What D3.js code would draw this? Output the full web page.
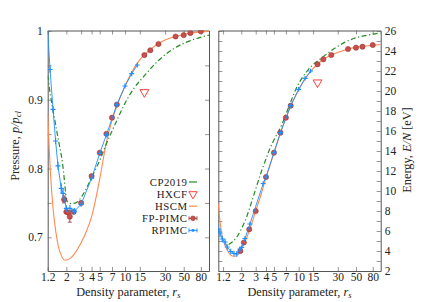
<!DOCTYPE html>
<html>
<head>
<meta charset="utf-8">
<script src="https://cdn.jsdelivr.net/npm/d3@7"></script>
<style>
  body { margin: 0; background: #fff; }
  svg text { font-family: "Liberation Serif", "DejaVu Serif", serif; fill: #222; }
</style>
</head>
<body>
<svg id="chart" width="432" height="302"></svg>
<script>
/*==== DATA ====*/
var rsTicks = [1.2, 2, 3, 4, 5, 7, 10, 15, 30, 50, 80];
var pTicks = [0.7, 0.75, 0.8, 0.85, 0.9, 0.95, 1.0];
var eTicks = d3.range(2, 27, 1);

// pressure panel
var cpPRs = [1.2, 1.3, 1.4, 1.5, 1.6, 1.7, 1.8, 1.9, 1.97, 2.05, 2.3, 2.6, 3.0, 3.5, 4.0, 5.0, 6.0, 8, 10, 12.5, 17, 25, 40, 60, 100];
var cpP = [0.935, 0.905, 0.882, 0.862, 0.843, 0.826, 0.808, 0.782, 0.762, 0.752, 0.749, 0.750, 0.758, 0.772, 0.787, 0.812, 0.836, 0.870, 0.895, 0.915, 0.935, 0.957, 0.976, 0.986, 0.994];
var hscmPRs = [1.2, 1.25, 1.3, 1.4, 1.5, 1.6, 1.75, 1.9, 2.0, 2.2, 2.5, 3.0, 3.5, 4.0, 5.0, 6.0, 7.0, 8.0, 10, 12, 15, 20, 25, 30, 40, 60, 100];
var hscmP = [0.88, 0.83, 0.79, 0.738, 0.708, 0.688, 0.673, 0.667, 0.667, 0.669, 0.676, 0.692, 0.71, 0.73, 0.785, 0.838, 0.87, 0.891, 0.92, 0.94, 0.958, 0.973, 0.982, 0.987, 0.992, 0.997, 0.9995];
var fpPRs = [1.88, 2.0, 2.1, 2.2, 2.45, 3, 4, 5, 6, 7, 8, 17, 20, 25, 40, 50, 60, 80];
var fpP = [0.755, 0.737, 0.736, 0.730, 0.737, 0.750, 0.789, 0.823, 0.8505, 0.874, 0.893, 0.965, 0.972, 0.981, 0.992, 0.994, 0.997, 0.9995];
var fpPErr = [0.005, 0.002, 0.002, 0.008, 0.002, 0.002, 0.001, 0.001, 0.001, 0.001, 0.001, 0.001, 0.001, 0.001, 0.001, 0.001, 0.001, 0.001];
var rpPRs = [1.05, 1.28, 1.39, 1.49, 1.59, 1.74, 1.83, 2.0, 2.21, 2.5, 3, 4, 5, 6, 8, 10, 12, 14];
var rpP = [1.116, 0.944, 0.886, 0.840, 0.804, 0.771, 0.764, 0.742, 0.742, 0.738, 0.748, 0.786, 0.822, 0.849, 0.893, 0.920, 0.938, 0.9505];
var rpPErr = [0, 0.003, 0.003, 0.003, 0.004, 0.006, 0.006, 0.003, 0.003, 0.003, 0.002, 0.002, 0.002, 0.002, 0.002, 0.002, 0.002, 0.002];
var hxPRs = [17];
var hxP = [0.911];

// energy panel
var cpERs = [1.4, 1.6, 1.8, 2.0, 2.3, 2.6, 3.0, 3.5, 4.0, 4.5, 5.0, 6.2, 8, 9.4, 13, 19, 29, 47, 70, 100];
var cpE = [4.65, 5.0, 5.5, 6.2, 7.3, 8.6, 10.2, 11.9, 13.2, 14.3, 15.1, 16.6, 18.9, 20.3, 22.1, 23.3, 24.4, 25.25, 25.6, 25.8];
var hscmERs = [1.05, 1.1, 1.17, 1.25, 1.35, 1.45, 1.55, 1.7, 1.85, 2.0, 2.2, 2.4, 2.7, 3.0, 3.5, 4.0, 5, 6, 7, 8, 10, 12, 14, 17, 20, 25, 30, 40, 60, 80, 100];
var hscmE = [8.7, 7.0, 5.5, 4.7, 4.1, 3.7, 3.5, 3.48, 3.7, 4.15, 4.85, 5.6, 6.8, 8.0, 9.7, 11.3, 13.8, 15.8, 17.3, 18.5, 20.1, 21.2, 21.95, 22.7, 23.15, 23.6, 23.85, 24.2, 24.45, 24.58, 24.65];
var fpERs = [1.95, 2.15, 2.5, 3, 4, 5, 6, 7, 8, 17, 20, 25, 40, 50, 60, 80];
var fpE = [4.0, 4.85, 6.17, 8.0, 11.4, 13.83, 15.83, 17.33, 18.53, 22.67, 23.17, 23.6, 24.2, 24.33, 24.43, 24.6];
var fpEErr = [0.15, 0.1, 0.1, 0.05, 0.05, 0.05, 0.05, 0.05, 0.05, 0.05, 0.05, 0.05, 0.05, 0.05, 0.05, 0.05];
var rpERs = [1.05, 1.1, 1.175, 1.27, 1.35, 1.49, 1.63, 1.76, 1.93, 2.02, 2.22, 2.55, 3.7, 4, 5, 6, 8, 10, 12, 14];
var rpE = [6.2, 5.8, 5.2, 4.9, 4.4, 3.95, 3.75, 3.7, 4.2, 4.35, 5.25, 6.7, 10.75, 11.4, 13.83, 15.83, 18.53, 20.17, 21.27, 22.0];
var rpEErr = [0.3, 0.3, 0.2, 0.2, 0.15, 0.15, 0.15, 0.15, 0.15, 0.1, 0.1, 0.1, 0.1, 0.1, 0.1, 0.1, 0.1, 0.1, 0.1, 0.1];
var hxERs = [17];
var hxE = [20.85];

var legendNames = ["CP2019", "HXCF", "HSCM", "FP-PIMC", "RPIMC"];

/*==== STYLE ====*/
var cGreen = "#228b22", cOrange = "#ff8a50", cRed = "#ff2a2a", cFp = "#c8504c", cFpDark = "#8e2a2a", cBlue = "#1e8fff";

var svg = d3.select("#chart");

function zip(xs, ys, es) {
  return xs.map(function(r, i) { return { r: r, v: ys[i], e: es ? es[i] : 0 }; });
}

function drawPanel(cfg) {
  var x = d3.scaleLog().domain(cfg.xDomain).range([cfg.x0, cfg.x1]);
  var y = d3.scaleLinear().domain(cfg.yDomain).range([271, 30.5]);

  var clipId = "clip-" + cfg.id;
  svg.append("clipPath").attr("id", clipId)
    .append("rect").attr("x", cfg.x0).attr("y", 30.5)
    .attr("width", cfg.x1 - cfg.x0).attr("height", 271 - 30.5);

  // axes, ticks pointing inward
  var bottom = svg.append("g").attr("transform", "translate(0,271)")
    .call(d3.axisBottom(x).tickValues(rsTicks).tickFormat(function(d) { return d; })
      .tickSize(-4).tickSizeOuter(0).tickPadding(2));
  var top = svg.append("g").attr("transform", "translate(0,30.5)")
    .call(d3.axisTop(x).tickValues(rsTicks).tickFormat("").tickSize(-4).tickSizeOuter(0));
  var left = svg.append("g").attr("transform", "translate(" + cfg.x0 + ",0)")
    .call(d3.axisLeft(y).tickValues(cfg.yTicks).tickFormat(cfg.leftFmt)
      .tickSize(-4).tickSizeOuter(0).tickPadding(5));
  var right = svg.append("g").attr("transform", "translate(" + cfg.x1 + ",0)")
    .call(d3.axisRight(y).tickValues(cfg.yTicks).tickFormat(cfg.rightFmt)
      .tickSize(-4).tickSizeOuter(0).tickPadding(4));

  [bottom, top, left, right].forEach(function(a) {
    a.attr("font-family", null).attr("font-size", null);
    a.selectAll("text").style("font-size", "11.5px");
    a.select(".domain").attr("stroke", "#555").attr("stroke-width", 1);
    a.selectAll(".tick line").attr("stroke", "#666").attr("stroke-width", 0.7);
  });

  var plot = svg.append("g").attr("clip-path", "url(#" + clipId + ")");
  var line = d3.line().x(function(d) { return x(d.r); }).y(function(d) { return y(d.v); });
  var smooth = d3.line().curve(d3.curveMonotoneX).x(function(d) { return x(d.r); }).y(function(d) { return y(d.v); });

  // HSCM
  plot.append("path").datum(zip(cfg.hscmRs, cfg.hscm))
    .attr("d", smooth).attr("fill", "none").attr("stroke", cOrange).attr("stroke-width", 1.1);
  // CP2019
  plot.append("path").datum(zip(cfg.cpRs, cfg.cp))
    .attr("d", smooth).attr("fill", "none").attr("stroke", cGreen).attr("stroke-width", 1.2)
    .attr("stroke-dasharray", "5,2.5,1.2,2.5");

  // FP-PIMC
  var fp = zip(cfg.fpRs, cfg.fp, cfg.fpErr);
  plot.selectAll(".fperr").data(fp).enter().append("path")
    .attr("d", function(d) {
      var cx = x(d.r), y1 = y(d.v - d.e), y2 = y(d.v + d.e);
      return "M" + cx + "," + y1 + "V" + y2 + "M" + (cx - 2) + "," + y1 + "h4M" + (cx - 2) + "," + y2 + "h4";
    })
    .attr("stroke", cFpDark).attr("stroke-width", 0.8).attr("fill", "none");
  plot.selectAll(".fp").data(fp).enter().append("circle")
    .attr("cx", function(d) { return x(d.r); }).attr("cy", function(d) { return y(d.v); })
    .attr("r", 2.6).attr("fill", cFp).attr("stroke", cFpDark).attr("stroke-width", 0.5);

  // RPIMC
  var rp = zip(cfg.rpRs, cfg.rp, cfg.rpErr);
  plot.append("path").datum(rp).attr("d", line).attr("fill", "none")
    .attr("stroke", cBlue).attr("stroke-width", 0.9);
  plot.selectAll(".rp").data(rp).enter().append("path")
    .attr("d", function(d) {
      var cx = x(d.r), cy = y(d.v), y1 = y(d.v - d.e) + 1.2, y2 = y(d.v + d.e) - 1.2;
      return "M" + (cx - 2.5) + "," + cy + "h5M" + cx + "," + y1 + "V" + y2;
    })
    .attr("stroke", cBlue).attr("stroke-width", 1.2).attr("fill", "none");

  // HXCF
  plot.selectAll(".hx").data(zip(cfg.hxRs, cfg.hx)).enter().append("path")
    .attr("d", d3.symbol().type(d3.symbolTriangle).size(34))
    .attr("transform", function(d) { return "translate(" + x(d.r) + "," + y(d.v) + ") rotate(180)"; })
    .attr("fill", "none").attr("stroke", cRed).attr("stroke-width", 0.9);

  // x label
  var xl = svg.append("text").attr("x", (cfg.x0 + cfg.x1) / 2).attr("y", 296)
    .attr("text-anchor", "middle").style("font-size", "12.3px");
  xl.append("tspan").text("Density parameter, ");
  xl.append("tspan").attr("font-style", "italic").text("r");
  xl.append("tspan").attr("font-style", "italic").attr("font-size", "8.5px").attr("dy", 2).text("s");

  return { x: x, y: y };
}

drawPanel({
  id: "p", xDomain: [1.2, 100], x0: 47.7, x1: 209, yDomain: [0.651, 1.0007],
  yTicks: pTicks,
  leftFmt: function(d) { return Math.abs(d * 10 - Math.round(d * 10)) < 1e-6 ? (d === 1 ? "1" : d3.format(".1f")(d)) : ""; },
  rightFmt: "",
  cpRs: cpPRs, cp: cpP, hscmRs: hscmPRs, hscm: hscmP,
  fpRs: fpPRs, fp: fpP, fpErr: fpPErr, rpRs: rpPRs, rp: rpP, rpErr: rpPErr,
  hxRs: hxPRs, hx: hxP
});

drawPanel({
  id: "e", xDomain: [1.05, 100], x0: 218.3, x1: 380.7, yDomain: [2, 26.05],
  yTicks: eTicks,
  leftFmt: "",
  rightFmt: function(d) { return d % 2 === 0 ? d : ""; },
  cpRs: cpERs, cp: cpE, hscmRs: hscmERs, hscm: hscmE,
  fpRs: fpERs, fp: fpE, fpErr: fpEErr, rpRs: rpERs, rp: rpE, rpErr: rpEErr,
  hxRs: hxERs, hx: hxE
});

// y labels
var yl = svg.append("text").attr("transform", "translate(18.5,146) rotate(-90)")
  .attr("text-anchor", "middle").style("font-size", "12.3px");
yl.append("tspan").text("Pressure, ");
yl.append("tspan").attr("font-style", "italic").text("p/p");
yl.append("tspan").attr("font-style", "italic").attr("font-size", "8.5px").attr("dy", 2).text("cl");

var yr = svg.append("text").attr("transform", "translate(410.5,150) rotate(-90)")
  .attr("text-anchor", "middle").style("font-size", "12.3px");
yr.append("tspan").text("Energy, ");
yr.append("tspan").attr("font-style", "italic").text("E/N");
yr.append("tspan").text(" [eV]");

// legend
var lg = svg.append("g");
legendNames.forEach(function(name, i) {
  var ly = 182 + i * 12.1;
  lg.append("text").attr("x", 187.5).attr("y", ly + 3.6).attr("text-anchor", "end")
    .style("font-size", "10.8px").style("letter-spacing", "0.5px").text(name);
  var sx = 189, ex = 197, mx = 193;
  if (name === "CP2019") {
    lg.append("line").attr("x1", sx).attr("x2", ex).attr("y1", ly).attr("y2", ly)
      .attr("stroke", cGreen).attr("stroke-width", 1.2);
  } else if (name === "HXCF") {
    lg.append("path").attr("d", d3.symbol().type(d3.symbolTriangle).size(30))
      .attr("transform", "translate(" + mx + "," + ly + ") rotate(180)")
      .attr("fill", "none").attr("stroke", cRed).attr("stroke-width", 0.9);
  } else if (name === "HSCM") {
    lg.append("line").attr("x1", sx).attr("x2", ex).attr("y1", ly).attr("y2", ly)
      .attr("stroke", cOrange).attr("stroke-width", 1.2);
  } else if (name === "FP-PIMC") {
    lg.append("path").attr("d", "M" + sx + "," + ly + "H" + ex + "M" + sx + "," + (ly - 2) + "v4M" + ex + "," + (ly - 2) + "v4")
      .attr("stroke", cFpDark).attr("stroke-width", 0.8).attr("fill", "none");
    lg.append("circle").attr("cx", mx).attr("cy", ly).attr("r", 2.4)
      .attr("fill", cFp).attr("stroke", cFpDark).attr("stroke-width", 0.5);
  } else {
    lg.append("path").attr("d", "M" + sx + "," + ly + "H" + ex + "M" + sx + "," + (ly - 2) + "v4M" + ex + "," + (ly - 2) + "v4")
      .attr("stroke", cBlue).attr("stroke-width", 1).attr("fill", "none");
    lg.append("rect").attr("x", mx - 1.3).attr("y", ly - 1.3).attr("width", 2.6).attr("height", 2.6).attr("fill", cBlue);
  }
});
</script>
</body>
</html>
